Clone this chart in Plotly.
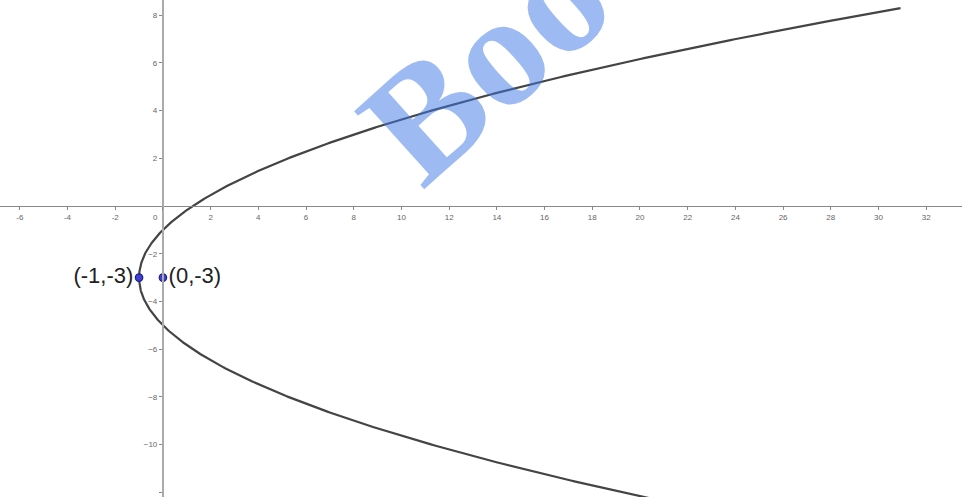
import numpy as np
import plotly.graph_objects as go

# ---- data ----
point_x = [-1, 0]
point_y = [-3, -3]
point_labels = ["(-1,-3)", "(0,-3)"]
vertex = (-1, -3)          # vertex of the parabola (y+3)^2 = 4(x+1)
focus = (0, -3)            # focus
curve_y_limits = [-12.3, 8.3]

x_ticks = [v for v in range(-6, 34, 2)]
x_tick_text = [("0" + "\u00a0" * 7) if v == 0 else str(v) for v in x_ticks]
y_ticks = [v for v in range(-12, 10, 2) if v != 0]

x_range = [-6.83, 33.5]
y_range = [-12.2, 8.64]

# parabola from its vertex and focus
p = focus[0] - vertex[0]
ys = np.linspace(curve_y_limits[0], curve_y_limits[1], 600)
xs = (ys - vertex[1]) ** 2 / (4 * p) + vertex[0]

fig = go.Figure()
fig.add_trace(go.Scatter(x=xs, y=ys, mode="lines",
                         line=dict(color="#444444", width=2.2),
                         hoverinfo="skip", showlegend=False))
fig.add_trace(go.Scatter(x=point_x, y=point_y, mode="markers+text",
                         text=point_labels,
                         textposition=["middle left", "middle right"],
                         textfont=dict(family="Liberation Sans, Arial", size=22, color="#222222"),
                         marker=dict(size=7.5, color="#4040d0", line=dict(color="#20208a", width=1.2)),
                         showlegend=False))

x_pos = (0 - y_range[0]) / (y_range[1] - y_range[0])
y_pos = (0 - x_range[0]) / (x_range[1] - x_range[0])

fig.update_layout(
    width=962, height=497,
    margin=dict(l=0, r=0, t=0, b=0),
    paper_bgcolor="white", plot_bgcolor="white",
    xaxis=dict(range=x_range, showgrid=False, zeroline=False,
               showline=True, linecolor="#888888", linewidth=1.4,
               anchor="free", position=x_pos,
               tickmode="array", tickvals=x_ticks, ticktext=x_tick_text,
               ticks="outside", ticklen=3, tickcolor="#888888",
               tickfont=dict(family="Liberation Sans, Arial", size=8, color="#666666")),
    yaxis=dict(range=y_range, showgrid=False, zeroline=False,
               showline=True, linecolor="#aaaaaa", linewidth=2,
               anchor="free", position=y_pos,
               tickmode="array", tickvals=y_ticks,
               ticks="outside", ticklen=3, tickcolor="#888888",
               tickfont=dict(family="Liberation Sans, Arial", size=8, color="#666666")),
    annotations=[dict(
        text="<b>Boo</b>", xref="paper", yref="paper",
        x=485 / 962, y=1 - 62 / 497, xanchor="center", yanchor="middle",
        showarrow=False, textangle=-42,
        font=dict(family="Liberation Serif, DejaVu Serif", size=160, color="rgba(60,120,230,0.5)"))],
)

fig.write_html("out.html", config={"displayModeBar": False},
               post_script="document.body.style.margin='0';document.body.style.overflow='hidden';")
